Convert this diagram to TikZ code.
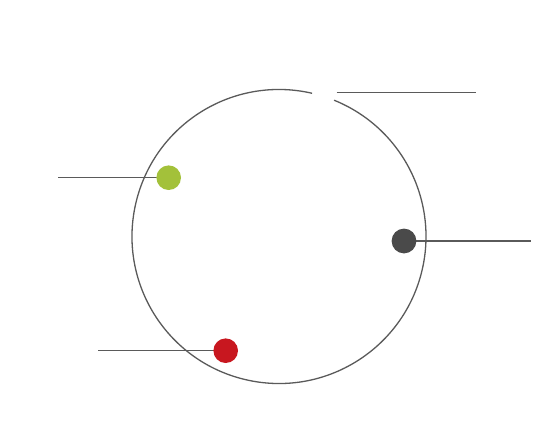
\documentclass[tikz,border=0pt]{standalone}
\definecolor{linegray}{HTML}{5A5A5A}
\definecolor{dotgreen}{HTML}{A3C13A}
\definecolor{dotdark}{HTML}{4A4A4A}
\definecolor{dotred}{HTML}{C8171F}
\tikzset{
  dotnode/.style={circle, inner sep=0pt, minimum size=24.6pt, draw=none},
  leader/.style={draw=linegray, line width=1.3pt},
}
\begin{document}
\begin{tikzpicture}[x=1pt,y=-1pt]
\useasboundingbox (0,0) rectangle (550,445);
% ring with gap
\coordinate (c) at (279,236.5);
\draw[leader] ([shift={(-77:147)}]c) arc[start angle=-77, end angle=-428, radius=147];
% top leader
\coordinate (t1) at (336.7,92.3);
\coordinate (t2) at (475.5,92.3);
\draw[leader] (t1) -- (t2);
% dots
\node[dotnode] (g) at (168.7,177.7) {};
\node[dotnode] (d) at (404,241) {};
\node[dotnode] (r) at (225.7,350.7) {};
\coordinate (g0) at (58.3,177.7);
\coordinate (d0) at (530.7,241);
\coordinate (r0) at (98,350.7);
\draw[leader] (g0) -- (g.center);
\draw[leader] (d0) -- (d.center);
\draw[leader] (r0) -- (r.center);
\fill[dotgreen] (g) circle[radius=12.3];
\fill[dotdark] (d) circle[radius=12.4];
\fill[dotred] (r) circle[radius=12.3];
\end{tikzpicture}
\end{document}
